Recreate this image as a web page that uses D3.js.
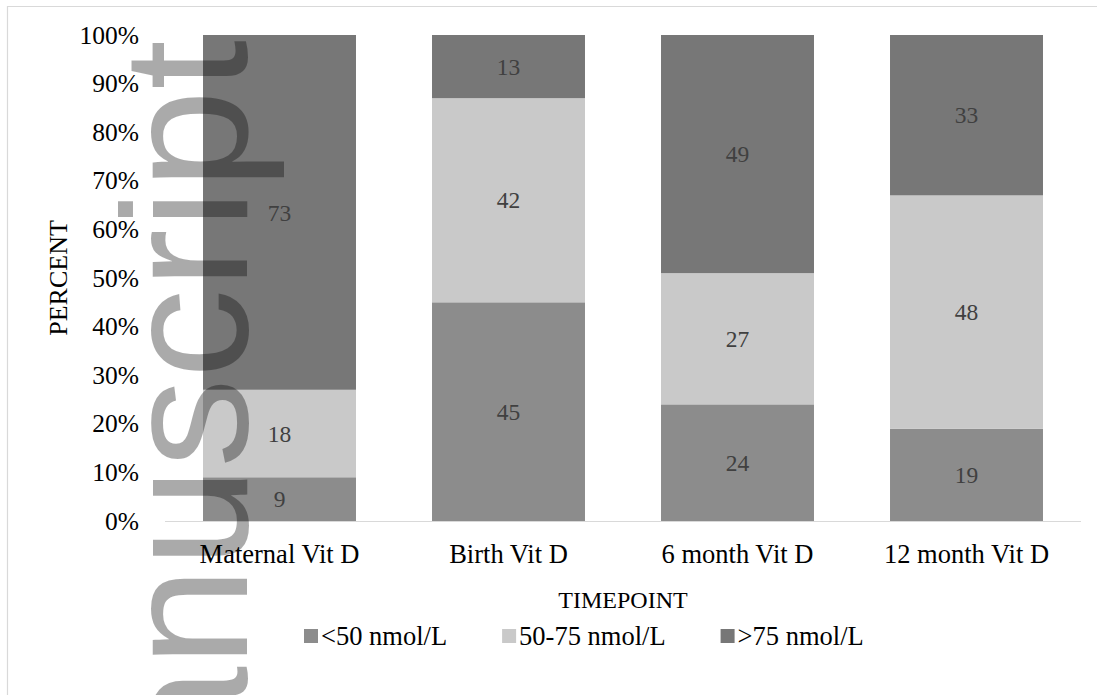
<!DOCTYPE html>
<html>
<head>
<meta charset="utf-8">
<script src="https://cdn.jsdelivr.net/npm/d3@7"></script>
<style>
  html, body { margin: 0; padding: 0; background: #ffffff; }
  svg { display: block; }
</style>
</head>
<body>
<svg id="chart" width="1097" height="695"></svg>
<script>
// ---- data ----
const categories = ["Maternal Vit D", "Birth Vit D", "6 month Vit D", "12 month Vit D"];
const seriesNames = ["<50 nmol/L", "50-75 nmol/L", ">75 nmol/L"];
const below50 = [9, 45, 24, 19];
const from50to75 = [18, 42, 27, 48];
const above75 = [73, 13, 49, 33];
const yTicks = [0, 10, 20, 30, 40, 50, 60, 70, 80, 90, 100];
const seriesColors = ["#8c8c8c", "#c9c9c9", "#777777"];
const watermarkText = "manuscript";

const SERIF = "'Liberation Serif', 'Times New Roman', Times, serif";
const SANS = "'Liberation Sans', Arial, Helvetica, sans-serif";

// ---- build table ----
const seriesValues = [below50, from50to75, above75];
const table = categories.map((c, i) => {
  const row = { category: c };
  seriesNames.forEach((s, j) => { row[s] = seriesValues[j][i]; });
  return row;
});
const stacked = d3.stack().keys(seriesNames).offset(d3.stackOffsetExpand)(table);

const svg = d3.select("#chart");
const W = 1097, H = 695;
const plot = { left: 165, right: 1081, top: 35, bottom: 521 };

const x = d3.scaleBand().domain(categories)
  .range([plot.left, plot.right]).paddingInner(0.332).paddingOuter(0.166);
const y = d3.scaleLinear().domain([0, 1]).range([plot.bottom, plot.top]);
const color = d3.scaleOrdinal().domain(seriesNames).range(seriesColors);

// chart border (partially visible)
svg.append("path")
  .attr("d", `M7.5,${H} L7.5,6.5 L${W},6.5`)
  .attr("fill", "none").attr("stroke", "#d9d9d9").attr("stroke-width", 1.2);

// bars
const layers = svg.append("g").selectAll("g").data(stacked).join("g")
  .attr("fill", d => color(d.key));
layers.selectAll("rect").data(d => d).join("rect")
  .attr("x", d => x(d.data.category))
  .attr("width", x.bandwidth())
  .attr("y", d => y(d[1]))
  .attr("height", d => y(d[0]) - y(d[1]));

// data labels
const labels = svg.append("g");
stacked.forEach(layer => {
  layer.forEach(d => {
    labels.append("text")
      .attr("x", x(d.data.category) + x.bandwidth() / 2)
      .attr("y", (y(d[0]) + y(d[1])) / 2)
      .attr("dy", "0.35em")
      .attr("text-anchor", "middle")
      .style("font-family", SERIF)
      .style("font-size", "23.5px")
      .style("fill", "#404040")
      .text(d.data[layer.key]);
  });
});

// y axis (labels only)
const yAxis = d3.axisLeft(d3.scaleLinear().domain([0, 100]).range([plot.bottom, plot.top]))
  .tickValues(yTicks).tickFormat(d => d + "%").tickSize(0).tickPadding(0);
const gy = svg.append("g").attr("transform", "translate(139,0)").call(yAxis);
gy.select(".domain").remove();
gy.selectAll("text")
  .style("font-family", SERIF).style("font-size", "25.5px").style("fill", "#000");

// x axis
const xAxis = d3.axisBottom(x).tickSize(0).tickPadding(0);
const gx = svg.append("g").attr("transform", `translate(0,${plot.bottom})`).call(xAxis);
gx.select(".domain").attr("stroke", "#d9d9d9").attr("stroke-width", 1.2)
  .attr("d", `M${plot.left},0.5H${plot.right}`);
gx.selectAll("text")
  .style("font-family", SERIF).style("font-size", "26.5px").style("fill", "#000")
  .attr("dy", null).attr("y", 42);

// axis titles
svg.append("text")
  .attr("transform", `translate(67,${(plot.top + plot.bottom) / 2}) rotate(-90)`)
  .attr("text-anchor", "middle")
  .style("font-family", SERIF).style("font-size", "26px").style("fill", "#000")
  .text("PERCENT");
svg.append("text")
  .attr("x", (plot.left + plot.right) / 2).attr("y", 608)
  .attr("text-anchor", "middle")
  .style("font-family", SERIF).style("font-size", "24px").style("fill", "#000")
  .text("TIMEPOINT");

// legend
const legend = svg.append("g");
let lx = 304;
seriesNames.forEach(s => {
  legend.append("rect").attr("x", lx).attr("y", 629).attr("width", 14).attr("height", 14)
    .attr("fill", color(s));
  const t = legend.append("text").attr("x", lx + 17).attr("y", 645)
    .style("font-family", SERIF).style("font-size", "26.5px").style("fill", "#000")
    .text(s);
  lx += 17 + t.node().getComputedTextLength() + 55;
});

// watermark
svg.append("text")
  .attr("transform", "translate(247,40) rotate(-90)")
  .attr("text-anchor", "end")
  .style("font-family", SANS)
  .style("font-size", "179px")
  .style("fill", "#000").style("fill-opacity", 0.333)
  .text(watermarkText);
</script>
</body>
</html>
